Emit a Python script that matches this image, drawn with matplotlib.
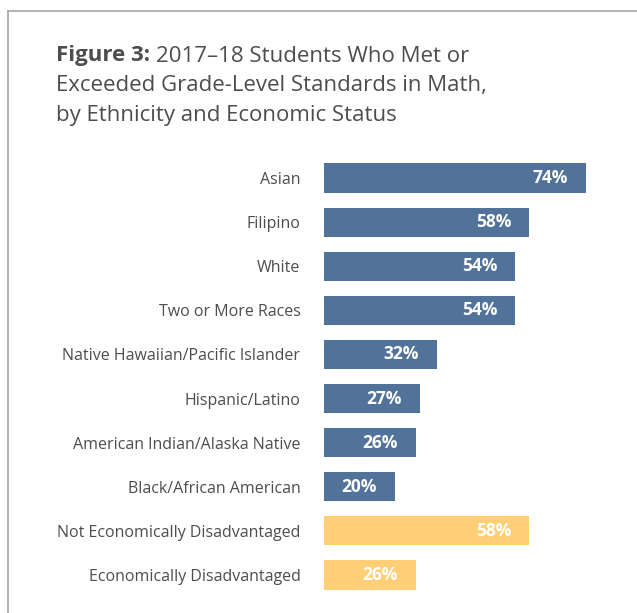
import matplotlib
matplotlib.use("Agg")
import matplotlib.pyplot as plt
from matplotlib.lines import Line2D

plt.rcParams['font.family'] = ['Open Sans', 'DejaVu Sans']

groups = ["Asian", "Filipino", "White", "Two or More Races",
          "Native Hawaiian/Pacific Islander", "Hispanic/Latino",
          "American Indian/Alaska Native", "Black/African American",
          "Not Economically Disadvantaged", "Economically Disadvantaged"]
pct = [74, 58, 54, 54, 32, 27, 26, 20, 58, 26]
kind = ["eth"] * 8 + ["econ"] * 2

colors = {"eth": "#51739a", "econ": "#ffcf78"}
txt = "#4d4d4d"

W, H = 637, 613
fig = plt.figure(figsize=(W / 100, H / 100), dpi=100)

# frame lines (left and top only)
fig.add_artist(Line2D([8 / W, 8 / W], [0, 1 - 11 / H], color="#a6a6a6", lw=1.2))
fig.add_artist(Line2D([8 / W, 1], [1 - 11 / H, 1 - 11 / H], color="#a6a6a6", lw=1.2))

# axes: bar start at x=324, 3.54 px per percent
x0 = 324
xmax = 80
ax = fig.add_axes([x0 / W, (H - 597) / H, xmax * 3.54 / W, 441 / H])
y = list(range(len(groups)))
ax.barh(y, pct, height=0.66, color=[colors[k] for k in kind])
ax.set_xlim(0, xmax)
ax.set_ylim(len(groups) - 0.5, -0.5)
for s in ax.spines.values():
    s.set_visible(False)
ax.set_xticks([])
ax.set_yticks(y)
ax.set_yticklabels(groups, fontsize=11.5, color=txt)
ax.tick_params(axis="y", length=0, pad=17)

for yi, v in zip(y, pct):
    ax.annotate(f"{v}%", xy=(v, yi), xytext=(-13, 0), textcoords="offset points",
                ha="right", va="center", color="white", fontsize=12.5,
                fontweight="bold")

# title with bold lead-in
tx, ty = 56 / W, 1 - 56 / H
t1 = fig.text(tx, ty, "Figure 3:", fontsize=16, fontweight="bold", color=txt,
              va="center", ha="left")
fig.canvas.draw()
bb = t1.get_window_extent(fig.canvas.get_renderer())
fig.text(bb.x1 / W + 6 / W, ty, "2017\u201318 Students Who Met or", fontsize=16,
         color=txt, va="center", ha="left")
fig.text(tx, 1 - 86 / H, "Exceeded Grade-Level Standards in Math,", fontsize=16,
         color=txt, va="center", ha="left")
fig.text(tx, 1 - 116 / H, "by Ethnicity and Economic Status", fontsize=16,
         color=txt, va="center", ha="left")

fig.savefig("out.png", dpi=100)
